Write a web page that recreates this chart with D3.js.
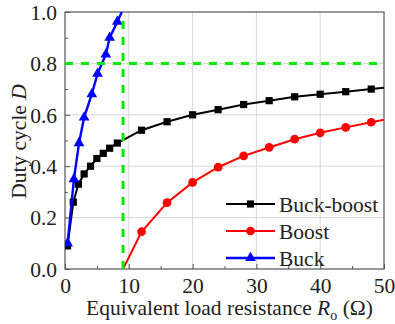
<!DOCTYPE html>
<html>
<head>
<meta charset="utf-8">
<script src="https://cdn.jsdelivr.net/npm/d3@7"></script>
<style>
  html, body { margin: 0; padding: 0; background: #fff; }
  svg text { font-family: 'Liberation Serif', Times, 'Times New Roman', 'DejaVu Serif', serif; fill: #222; }
</style>
</head>
<body>
<div id="chart"></div>
<script>

// values: [R_o (ohm), duty cycle D]
const buckBoost = [[0.4,0.09],[1.3,0.26],[2.1,0.33],[3,0.37],[4,0.40],[5,0.43],[6,0.45],[7,0.47],[8.2,0.49],
  [12,0.54],[16,0.573],[20,0.60],[24,0.62],[28,0.64],[32,0.655],[36,0.67],[40,0.68],[44,0.69],[48,0.70],[52,0.71]];
const boost = [[9.1,0],[12,0.145],[16,0.258],[20,0.337],[24,0.396],[28,0.44],[32,0.473],[36,0.505],[40,0.53],[44,0.551],[48,0.571],[52,0.59]];
const buck = [[0.4,0.10],[1.4,0.35],[2.2,0.49],[3,0.59],[4.2,0.68],[5.1,0.76],[6.4,0.835],[7,0.90],[8.2,0.962],[8.9,1.0]];

const refD = 0.8;     // horizontal green guide
const refR = 9.1;     // vertical green guide

const xTicks = [0,10,20,30,40,50];
const yTicks = [0,0.2,0.4,0.6,0.8,1.0];
const xMinor = [5,15,25,35,45];
const yMinor = [0.1,0.3,0.5,0.7,0.9];

const seriesNames = ["Buck-boost","Boost","Buck"];

const FONT = "'Liberation Serif', Times, 'Times New Roman', 'DejaVu Serif', serif";
const W = 395, H = 324;
const m = {left: 65, top: 12, right: 11, bottom: 55};

const svg = d3.select('#chart').append('svg')
  .attr('width', W)
  .attr('height', H)
  .attr('font-family', FONT);

const x = d3.scaleLinear().domain([0,50]).range([m.left, W - m.right]);
const y = d3.scaleLinear().domain([0,1]).range([H - m.bottom, m.top]);

svg.append('clipPath').attr('id','clip')
  .append('rect')
    .attr('x', x(0)).attr('y', y(1))
    .attr('width', x(50) - x(0)).attr('height', y(0) - y(1));

// grid
svg.append('g').selectAll('line').data(xTicks.slice(1, -1)).enter()
  .append('line')
    .attr('x1', d => x(d)).attr('x2', d => x(d))
    .attr('y1', y(0)).attr('y2', y(1))
    .attr('stroke', '#d8d8d8').attr('stroke-width', 1);
svg.append('g').selectAll('line').data(yTicks.slice(1, -1)).enter()
  .append('line')
    .attr('y1', d => y(d)).attr('y2', d => y(d))
    .attr('x1', x(0)).attr('x2', x(50))
    .attr('stroke', '#d8d8d8').attr('stroke-width', 1);

// axes, ticks pointing inward
const xAxis = svg.append('g')
  .attr('transform', `translate(0,${y(0)})`)
  .call(d3.axisBottom(x).tickValues(xTicks).tickSizeInner(-5).tickSizeOuter(0).tickPadding(9).tickFormat(d3.format('d')));
const xAxisMinor = svg.append('g')
  .attr('transform', `translate(0,${y(0)})`)
  .call(d3.axisBottom(x).tickValues(xMinor).tickSize(-3).tickFormat(''));
const yAxis = svg.append('g')
  .attr('transform', `translate(${x(0)},0)`)
  .call(d3.axisLeft(y).tickValues(yTicks).tickSizeInner(-5).tickSizeOuter(0).tickPadding(8).tickFormat(d3.format('.1f')));
const yAxisMinor = svg.append('g')
  .attr('transform', `translate(${x(0)},0)`)
  .call(d3.axisLeft(y).tickValues(yMinor).tickSize(-3).tickFormat(''));

[xAxis, xAxisMinor, yAxis, yAxisMinor].forEach(g => {
  g.attr('font-family', FONT).attr('font-size', 21.5);
  g.select('.domain').remove();
  g.selectAll('line').attr('stroke', '#555');
  g.selectAll('text').attr('fill', '#222');
});
xAxis.selectAll('text').attr('dy', '0.71em');
yAxis.selectAll('text').attr('dy', '0.34em');

// frame
svg.append('rect')
  .attr('x', x(0)).attr('y', y(1))
  .attr('width', x(50) - x(0)).attr('height', y(0) - y(1))
  .attr('fill', 'none').attr('stroke', '#555').attr('stroke-width', 1.2);

// data
const plot = svg.append('g').attr('clip-path', 'url(#clip)');
const line = d3.line().x(d => x(d[0])).y(d => y(d[1]));
const inside = d => d[1] > 0 && d[1] < 1;

const styles = [
  {data: buckBoost, color: '#000000', sym: d3.symbolSquare, size: 52, width: 2},
  {data: boost, color: '#ff0000', sym: d3.symbolCircle, size: 60, width: 2},
  {data: buck, color: '#0000ff', sym: d3.symbolTriangle, size: 50, width: 2.4},
];

styles.forEach(s => {
  plot.append('path')
    .attr('d', line(s.data))
    .attr('fill', 'none')
    .attr('stroke', s.color)
    .attr('stroke-width', s.width);
  plot.append('g').selectAll('path').data(s.data.filter(inside)).enter()
    .append('path')
      .attr('transform', d => `translate(${x(d[0])},${y(d[1])})`)
      .attr('d', d3.symbol().type(s.sym).size(s.size))
      .attr('fill', s.color);
});

// green guides
plot.append('line')
  .attr('x1', x(0)).attr('x2', x(50))
  .attr('y1', y(refD)).attr('y2', y(refD))
  .attr('stroke', '#00ee00').attr('stroke-width', 3)
  .attr('stroke-dasharray', '8,8');
plot.append('line')
  .attr('x1', x(refR)).attr('x2', x(refR))
  .attr('y1', y(0)).attr('y2', y(0.98))
  .attr('stroke', '#00ee00').attr('stroke-width', 3)
  .attr('stroke-dasharray', '8,8');

// legend
const legend = svg.append('g');
styles.forEach((s, i) => {
  const ly = 204 + i * 27;
  legend.append('line')
    .attr('x1', 226).attr('x2', 275)
    .attr('y1', ly).attr('y2', ly)
    .attr('stroke', s.color).attr('stroke-width', s.width);
  legend.append('path')
    .attr('transform', `translate(250.5,${ly})`)
    .attr('d', d3.symbol().type(s.sym).size(s.size))
    .attr('fill', s.color);
  legend.append('text')
    .attr('x', 279).attr('y', ly + 7.5)
    .attr('font-size', 21.5)
    .text(seriesNames[i]);
});

// axis titles
const xt = svg.append('text')
  .attr('x', (x(0) + x(50)) / 2 + 5).attr('y', 315)
  .attr('text-anchor', 'middle')
  .attr('font-size', 21.5);
xt.append('tspan').text('Equivalent load resistance ');
xt.append('tspan').attr('font-style', 'italic').text('R');
xt.append('tspan').attr('font-size', 14).attr('dy', 5).text('o');
xt.append('tspan').attr('dy', -5).text(' (Ω)');

const yt = svg.append('text')
  .attr('transform', `translate(26,${(y(0) + y(1)) / 2 + 1}) rotate(-90)`)
  .attr('text-anchor', 'middle')
  .attr('font-size', 21.5);
yt.append('tspan').text('Duty cycle ');
yt.append('tspan').attr('font-style', 'italic').text('D');

</script>
</body>
</html>
